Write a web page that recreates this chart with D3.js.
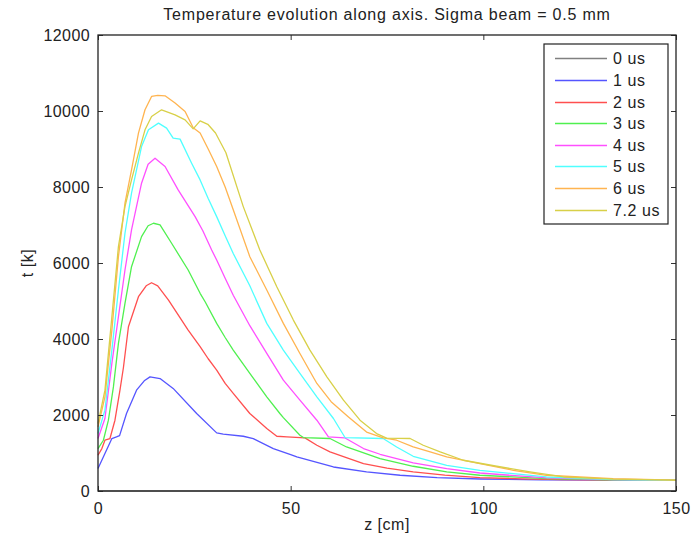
<!DOCTYPE html>
<html>
<head>
<meta charset="utf-8">
<script src="https://cdn.jsdelivr.net/npm/d3@7"></script>
<style>
  body { margin: 0; background: #fff; }
  text { font-family: "Liberation Sans", Arial, sans-serif; fill: #222; }
</style>
</head>
<body>
<div id="chart-container"></div>
<script>
// data: [z (cm), T (K)]
var t0us = [[0, 0], [150, 0]];
var t1us = [[0, 590], [1.8, 985], [3.6, 1381], [4.8, 1423], [5.6, 1457], [7.4, 2040], [10, 2653], [12, 2900],
  [13.5, 3004], [16.1, 2960], [19.5, 2700], [25.6, 2040], [30.8, 1530], [32.5, 1494], [37.7, 1441], [40.3, 1380],
  [45.5, 1117], [50, 959], [51.6, 896], [61.1, 632], [69.7, 501], [78.4, 414], [88, 350], [99.1, 316], [115, 295],
  [130, 285], [150, 280]];
var t2us = [[0, 940], [1, 1117], [1.8, 1336], [3.1, 1381], [4.4, 1863], [5.7, 2653], [6.6, 3250], [7.9, 4322],
  [10.5, 5112], [12.5, 5400], [13.9, 5481], [15.5, 5400], [18.3, 5025], [23.4, 4234], [26.5, 3800], [28.6, 3480],
  [30.8, 3181], [33, 2830], [35.1, 2567], [39.4, 2040], [43.8, 1644], [46.4, 1441], [49, 1425], [53.7, 1397],
  [56.8, 1204], [60.2, 1028], [65, 860], [68.9, 722], [75, 600], [81.8, 501], [90, 420], [99.1, 353], [110, 320],
  [120, 300], [135, 285], [150, 278]];
var t3us = [[0, 1117], [1.4, 1336], [2.7, 1863], [4, 2740], [5.3, 3884], [7, 4938], [8.7, 5903], [11.3, 6693],
  [13, 6980], [14.4, 7046], [16.1, 7001], [19.1, 6519], [23.4, 5816], [26.5, 5202], [27.8, 4980], [30.8, 4411],
  [33, 4040], [35.1, 3708], [39.4, 3094], [43.8, 2477], [47.2, 2040], [48.1, 1930], [52.4, 1468], [53.3, 1407],
  [60.2, 1381], [64.5, 1159], [73.2, 854], [81.8, 651], [90.5, 501], [99.1, 414], [116.4, 327], [133, 295],
  [150, 280]];
var t4us = [[0, 1380], [1.8, 1908], [3.6, 3357], [5.3, 4585], [7, 5816], [8.7, 6870], [11.3, 8100], [13, 8600],
  [14.8, 8759], [17.4, 8538], [20.8, 7924], [25.2, 7220], [27.2, 6850], [29.5, 6343], [30.8, 6079], [33, 5600],
  [35.1, 5150], [39.4, 4350], [43.8, 3620], [48.1, 2917], [52.4, 2390], [56.8, 1863], [59.8, 1423], [64, 1400],
  [68.9, 1117], [73.2, 967], [81.8, 738], [90.5, 590], [99.1, 474], [116.4, 343], [133.7, 300], [150, 282]];
var t5us = [[0, 1512], [1.8, 2127], [3.6, 3708], [5.3, 5289], [7, 6783], [8.7, 7837], [11.3, 9065], [13.1, 9505],
  [15.7, 9681], [17.8, 9550], [19.5, 9286], [21.3, 9260], [24.3, 8627], [26.5, 8187], [28.6, 7700], [30.8, 7220],
  [33, 6720], [35.1, 6250], [39.4, 5400], [43.8, 4411], [48.1, 3708], [52.4, 3094], [56.8, 2477], [61.1, 1908],
  [64.1, 1407], [74, 1381], [77.5, 1159], [81.8, 914], [90.5, 677], [99.1, 545], [116.4, 369], [133.7, 300],
  [150, 283]];
var t6us = [[0, 1686], [1.8, 2477], [3.6, 4234], [5.3, 6166], [7, 7573], [8.7, 8451], [10.5, 9418], [12.2, 10032],
  [13.9, 10382], [15.5, 10410], [17.4, 10400], [20, 10208], [22.6, 9987], [24.7, 9560], [26.5, 9420], [28.6, 9000],
  [30.8, 8538], [33, 8000], [35.1, 7400], [39.4, 6166], [43.8, 5289], [48.1, 4411], [52.4, 3620], [56.8, 2830],
  [60.5, 2350], [65, 1950], [69.7, 1550], [74, 1400], [77.5, 1336], [81.8, 1159], [86.2, 1028], [90.5, 896],
  [99.1, 722], [107.8, 545], [116.4, 414], [133.7, 327], [150, 285]];
var t72us = [[0, 1776], [1.8, 2653], [3.6, 4585], [5.3, 6430], [7, 7484], [8.7, 8187], [10.5, 8890], [12.2, 9505],
  [13.9, 9855], [16.5, 10032], [20, 9900], [22.6, 9768], [24.7, 9530], [26.5, 9740], [28.5, 9650], [30.5, 9420],
  [33.2, 8900], [37.7, 7484], [42, 6343], [46.4, 5375], [50.7, 4498], [55, 3708], [59.4, 3004], [63.7, 2390],
  [68, 1863], [72.3, 1512], [74.9, 1390], [81, 1381], [84.4, 1204], [88.8, 1028], [94.8, 809], [103.5, 651],
  [112.1, 501], [120.8, 369], [133.7, 310], [150, 285]];

var labels = ["0 us", "1 us", "2 us", "3 us", "4 us", "5 us", "6 us", "7.2 us"];
var colors = ["#808080", "#5555ff", "#ff4f4f", "#4ff04f", "#ff4fff", "#4fffff", "#ffb450", "#d8d048"];
var series = [t0us, t1us, t2us, t3us, t4us, t5us, t6us, t72us];
var xTicks = [0, 50, 100, 150];
var yTicks = [0, 2000, 4000, 6000, 8000, 10000, 12000];

// set the dimensions and margins of the graph
var margin = {top: 35, right: 24, bottom: 51, left: 98},
    width = 700,
    height = 542;

var svg = d3.select("#chart-container")
  .append("svg")
    .attr("width", width)
    .attr("height", height)
    .style("background", "#fff");

var w = width - margin.left - margin.right,
    h = height - margin.top - margin.bottom;

var g = svg.append("g").attr("transform", "translate(" + margin.left + "," + margin.top + ")");

var xScale = d3.scaleLinear().domain([0, 150]).range([0, w]);
var yScale = d3.scaleLinear().domain([0, 12000]).range([h, 0]);

// curves
var line = d3.line()
  .x(function (d) { return xScale(d[0]); })
  .y(function (d) { return yScale(d[1]); });

series.forEach(function (s, i) {
  g.append("path")
    .datum(s)
    .attr("fill", "none")
    .attr("stroke", colors[i])
    .attr("stroke-width", 1.3)
    .attr("stroke-linejoin", "round")
    .attr("d", line);
});

// axes, ticks inward, matlab style box
function styleAxis(sel) {
  sel.select(".domain").remove();
  sel.selectAll(".tick line").attr("stroke", "#333");
  sel.selectAll(".tick text")
    .style("font-size", "16px")
    .style("letter-spacing", "0.4px")
    .attr("fill", "#222");
}

var fmt = d3.format("d");

g.append("g")
  .attr("transform", "translate(0," + h + ")")
  .call(d3.axisBottom(xScale).tickValues(xTicks).tickFormat(fmt).tickSizeInner(-5).tickSizeOuter(0).tickPadding(12))
  .call(styleAxis);
g.append("g")
  .call(d3.axisTop(xScale).tickValues(xTicks).tickSizeInner(-5).tickSizeOuter(0).tickFormat(""))
  .call(styleAxis);
g.append("g")
  .call(d3.axisLeft(yScale).tickValues(yTicks).tickFormat(fmt).tickSizeInner(-5).tickSizeOuter(0).tickPadding(8))
  .call(styleAxis);
g.append("g")
  .attr("transform", "translate(" + w + ",0)")
  .call(d3.axisRight(yScale).tickValues(yTicks).tickSizeInner(-5).tickSizeOuter(0).tickFormat(""))
  .call(styleAxis);

g.append("rect")
  .attr("width", w)
  .attr("height", h)
  .attr("fill", "none")
  .attr("stroke", "#222")
  .attr("stroke-width", 1.3);

// title and labels
svg.append("text")
  .attr("x", margin.left + w / 2)
  .attr("y", 20)
  .attr("text-anchor", "middle")
  .style("font-size", "16px")
  .style("letter-spacing", "0.8px")
  .text("Temperature evolution along axis. Sigma beam = 0.5 mm");

svg.append("text")
  .attr("x", margin.left + w / 2)
  .attr("y", 530)
  .attr("text-anchor", "middle")
  .style("font-size", "16px")
  .style("letter-spacing", "0.5px")
  .text("z [cm]");

svg.append("text")
  .attr("transform", "translate(33," + (margin.top + h / 2) + ") rotate(-90)")
  .attr("text-anchor", "middle")
  .style("font-size", "16px")
  .style("letter-spacing", "0.5px")
  .text("t [k]");

// legend
var legend = svg.append("g").attr("transform", "translate(544,44)");
legend.append("rect")
  .attr("width", 124)
  .attr("height", 180)
  .attr("fill", "#fff")
  .attr("stroke", "#222")
  .attr("stroke-width", 1.2);

labels.forEach(function (lab, i) {
  var yy = Math.round(14.3 + i * 21.6) + 0.5;
  legend.append("line")
    .attr("x1", 11).attr("x2", 63)
    .attr("y1", yy).attr("y2", yy)
    .attr("stroke", colors[i])
    .attr("stroke-width", 1.5);
  legend.append("text")
    .attr("x", 69)
    .attr("y", yy + 5.5)
    .style("font-size", "16px")
    .style("letter-spacing", "0.6px")
    .text(lab);
});
</script>
</body>
</html>
